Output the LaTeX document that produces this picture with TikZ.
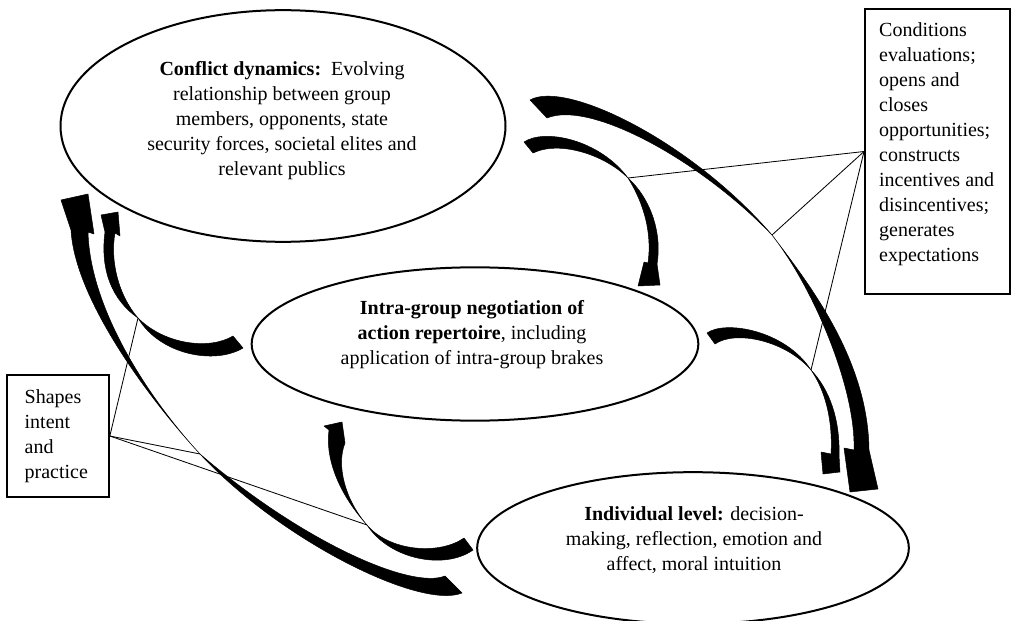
\documentclass[tikz,border=0pt]{standalone}
\usepackage{fontspec}
\setmainfont{Liberation Serif}
\usetikzlibrary{shapes.geometric}

\tikzset{
  phase/.style={draw, ellipse, line width=1.2pt, inner sep=0pt},
  phasetext/.style={align=center, font=\fontsize{12}{15}\selectfont},
  notebox/.style={draw, line width=1.2pt, align=left, font=\fontsize{12}{15}\selectfont},
  link/.style={line width=0.5pt},
  swoosh/.style={fill=black, draw=black, line width=0.3pt, line join=round}
}

\begin{document}
\begin{tikzpicture}[x=0.6pt, y=-0.6pt]
    \useasboundingbox (0,0) rectangle (1011,621);

    % the three levels
    \node[phase, minimum width=267pt, minimum height=139pt] (conf) at (283,126) {};
    \node[phase, minimum width=268pt, minimum height=92pt] (intra) at (475,344) {};
    \node[phase, minimum width=259pt, minimum height=91pt] (indiv) at (693,548) {};
    \node[phasetext] (conftext) at (282,121) {\textbf{Conflict dynamics:}\ \ Evolving\\ relationship between group\\ members, opponents, state\\ security forces, societal elites and\\ relevant publics};
    \node[phasetext] (intratext) at (472,335) {\textbf{Intra-group negotiation of}\\ \textbf{action repertoire}, including\\ application of intra-group brakes};
    \node[phasetext] (indivtext) at (694,540) {\textbf{Individual level:} decision-\\ making, reflection, emotion and\\ affect, moral intuition};

    % side notes
    \node[notebox, inner xsep=8.5pt, inner ysep=8pt, anchor=north west] (cond) at (864,8)
        {\parbox[t][155pt][t]{70pt}{Conditions\\ evaluations;\\ opens and\\ closes\\ opportunities;\\ constructs\\ incentives and\\ disincentives;\\ generates\\ expectations}};
    \node[notebox, text width=40pt, inner xsep=10.5pt, minimum height=73pt] (shape) at (58,436) {Shapes\\ intent\\ and\\ practice};

    % waists of the arrows
    \coordinate (c1) at (628,178);
    \coordinate (c2) at (772,235);
    \coordinate (c3) at (811,370);
    \coordinate (s1) at (138,318);
    \coordinate (s2) at (200,454);
    \coordinate (s3) at (367,525);

    \draw[link] (cond.west) -- (c1);
    \draw[link] (cond.west) -- (c2);
    \draw[link] (cond.west) -- (c3);
    \draw[link] (shape.east) -- (s1);
    \draw[link] (shape.east) -- (s2);
    \draw[link] (shape.east) -- (s3);

    % downward arrows
    \filldraw[swoosh] (530,100) .. controls (565,80) and (690,140) .. (c2)
        .. controls (810,285) and (868,360) .. (869,450) -- (878,489) -- (850,492)
        -- (844,448) -- (854,450) .. controls (856,390) and (815,290) .. (c2)
        .. controls (700,160) and (590,100) .. (547,118) -- cycle;
    \filldraw[swoosh] (524,142) .. controls (545,128) and (600,140) .. (c1)
        .. controls (652,200) and (662,235) .. (657,264) -- (660,285) -- (638,286)
        -- (644,262) -- (648,263) .. controls (652,235) and (645,205) .. (c1)
        .. controls (605,155) and (560,140) .. (533,153) -- cycle;
    \filldraw[swoosh] (707,333) .. controls (725,320) and (785,330) .. (c3)
        .. controls (830,390) and (840,420) .. (839,455) -- (840,472) -- (823,474)
        -- (821,452) -- (831,454) .. controls (833,420) and (825,390) .. (c3)
        .. controls (785,340) and (735,330) .. (715,344) -- cycle;

    % upward arrows
    \filldraw[swoosh] (464,538) .. controls (440,555) and (390,552) .. (s3)
        .. controls (345,500) and (336,465) .. (345,443) -- (342,422) -- (324,426)
        -- (329,430) .. controls (325,460) and (340,495) .. (s3)
        .. controls (390,560) and (445,570) .. (473,550) -- cycle;
    \filldraw[swoosh] (445,576) .. controls (410,590) and (300,540) .. (s2)
        .. controls (150,400) and (90,310) .. (88,232) -- (94,234) -- (88,194)
        -- (61,200) -- (71,230) .. controls (75,300) and (150,400) .. (s2)
        .. controls (280,540) and (420,610) .. (462,593) -- cycle;
    \filldraw[swoosh] (233,336) .. controls (210,350) and (165,345) .. (s1)
        .. controls (118,295) and (110,260) .. (115,233) -- (120,236) -- (118,212)
        -- (101,215) -- (105,232) .. controls (100,270) and (112,300) .. (s1)
        .. controls (160,355) and (215,365) .. (243,348) -- cycle;
\end{tikzpicture}
\end{document}
